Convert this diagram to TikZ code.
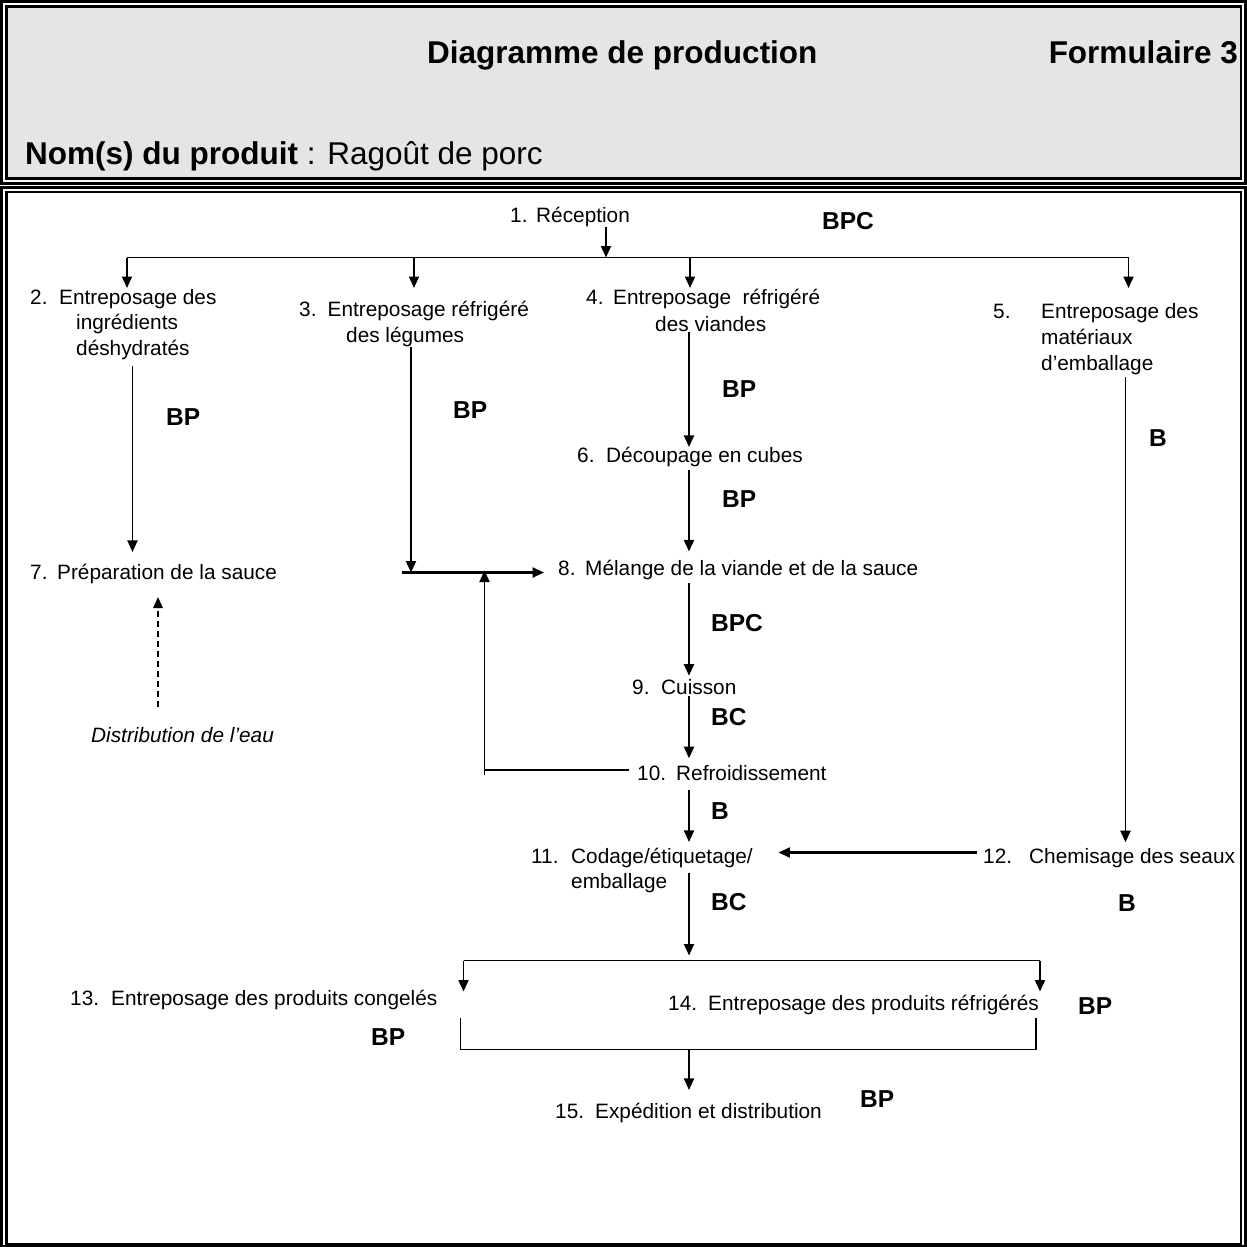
\documentclass[tikz,border=0pt]{standalone}
\usepackage{fontspec}
\setmainfont{Liberation Sans}
\usetikzlibrary{arrows.meta}
\definecolor{panelgray}{HTML}{E5E5E5}
\newcommand\stepno[2]{\makebox[#1][l]{#2}}
\newcommand\txtfont{\fontsize{20.8}{25}\selectfont}
\newcommand\hdfont{\fontsize{31.5}{38}\selectfont\bfseries}
\newcommand\riskfont{\fontsize{24.5}{29}\selectfont\bfseries}
\tikzset{
  stepbox/.style={font=\txtfont, inner sep=0pt, anchor=base west},
  risk/.style={font=\riskfont, inner sep=0pt, anchor=base west},
  head/.style={font=\hdfont, inner sep=0pt, anchor=base west},
  link/.style={line width=1.6pt},
  flow/.style={line width=1.9pt, -{Triangle[length=11.5pt,width=10pt]}},
  water/.style={line width=1.6pt, dash pattern=on 6pt off 4pt, -{Triangle[length=11pt,width=9.5pt]}},
}
\begin{document}
\begin{tikzpicture}[x=1pt,y=-1pt]
\useasboundingbox (0,0) rectangle (1247,1247);

% double-ruled frames
\draw[line width=3pt] (1.5,1.5) rectangle (1245.5,183);
\draw[line width=2.5pt, fill=panelgray] (6.5,6.5) rectangle (1241,178.5);
\draw[line width=3pt] (1.5,187.5) rectangle (1245.5,1246.5);
\draw[line width=2.5pt] (6.5,192) rectangle (1241,1244);

% header
\node[head] (title) at (427,63.3) {Diagramme de production};
\node[head, anchor=base east] (form) at (1238,63.3) {Formulaire 3};
\node[head] (prod) at (25,164.3) {Nom(s) du produit\mdseries\ : Ragoût de porc};

% steps
\node[stepbox] (n1) at (510,222.5) {\stepno{26pt}{1.}Réception};
\node[stepbox] (n2a) at (30,304.5) {\stepno{29pt}{2.}Entreposage des};
\node[stepbox] (n2b) at (76,329.5) {ingrédients};
\node[stepbox] (n2c) at (76,355.5) {déshydratés};
\node[stepbox] (n3a) at (299,316.5) {\stepno{28.5pt}{3.}Entreposage réfrigéré};
\node[stepbox] (n3b) at (346,342.5) {des légumes};
\node[stepbox] (n4a) at (586,304.5) {\stepno{27pt}{4.}Entreposage\ \ réfrigéré};
\node[stepbox] (n4b) at (655,331.5) {des viandes};
\node[stepbox] (n5a) at (993,318.5) {\stepno{48pt}{5.}Entreposage des};
\node[stepbox] (n5b) at (1041,344.5) {matériaux};
\node[stepbox] (n5c) at (1041,370.5) {d’emballage};
\node[stepbox] (n6) at (577,462.5) {\stepno{29pt}{6.}Découpage en cubes};
\node[stepbox] (n7) at (30,579.5) {\stepno{27pt}{7.}Préparation de la sauce};
\node[stepbox] (n8) at (558,575.5) {\stepno{27pt}{8.}Mélange de la viande et de la sauce};
\node[stepbox] (n9) at (632,694.5) {\stepno{29pt}{9.}Cuisson};
\node[stepbox] (n10) at (637,780.5) {\stepno{39pt}{10.}Refroidissement};
\node[stepbox] (n11a) at (531,863.5) {\stepno{40pt}{11.}Codage/étiquetage/};
\node[stepbox] (n11b) at (571,888.5) {emballage};
\node[stepbox] (n12) at (983,863.5) {\stepno{46pt}{12.}Chemisage des seaux};
\node[stepbox] (n13) at (70,1005.5) {\stepno{41pt}{13.}Entreposage des produits congelés};
\node[stepbox] (n14) at (668,1010.5) {\stepno{40pt}{14.}Entreposage des produits réfrigérés};
\node[stepbox] (n15) at (555,1118.5) {\stepno{40pt}{15.}Expédition et distribution};
\node[stepbox, font=\txtfont\itshape] (water) at (91,742.5) {Distribution de l’eau};

% hazard labels
\node[risk] (r1) at (822,229.6) {BPC};
\node[risk] (r2) at (166,425.6) {BP};
\node[risk] (r3) at (453,418.6) {BP};
\node[risk] (r4) at (722,397.6) {BP};
\node[risk] (r5) at (1149,446.6) {B};
\node[risk] (r6) at (722,507) {BP};
\node[risk] (r7) at (711,631.6) {BPC};
\node[risk] (r8) at (711,725.3) {BC};
\node[risk] (r9) at (711,819.6) {B};
\node[risk] (r10) at (711,910) {BC};
\node[risk] (r11) at (1118,911) {B};
\node[risk] (r12) at (1078,1014) {BP};
\node[risk] (r13) at (371,1045) {BP};
\node[risk] (r14) at (860,1107) {BP};

% junction rows and columns
\coordinate (busT) at (0,257.5);
\coordinate (tipT) at (0,288);
\coordinate (colR) at (606,0);
\coordinate (c2) at (127,0);
\coordinate (c3) at (414,0);
\coordinate (c4) at (690,0);
\coordinate (c5) at (1128.5,0);
\coordinate (t2) at (132.5,0);
\coordinate (t3) at (411,0);
\coordinate (cC) at (689,0);
\coordinate (t5) at (1125.5,0);
\coordinate (mixY) at (0,572.5);
\coordinate (mixL) at (402,572.5);
\coordinate (loopX) at (484.5,0);
\coordinate (loopBot) at (484.5,775);
\coordinate (dashX) at (158,0);
\coordinate (arrY) at (0,852.5);
\coordinate (busB) at (0,960.5);
\coordinate (tipB) at (0,991.5);
\coordinate (c13) at (463.5,0);
\coordinate (c14) at (1040,0);
\coordinate (brT) at (0,1017.5);
\coordinate (brB) at (0,1049.5);
\coordinate (b13) at (460.5,0);
\coordinate (b14) at (1036,0);

% reception split
\draw[flow] (n1.south -| colR) -- (colR |- busT);
\draw[link] (busT -| c2) -- (busT -| c5);
\draw[flow] (busT -| c2) -- (tipT -| c2);
\draw[flow] (busT -| c3) -- (tipT -| c3);
\draw[flow] (busT -| c4) -- (tipT -| c4);
\draw[flow] (busT -| c5) -- (tipT -| c5);

% sauce branch
\draw[flow] ([yshift=-6pt]n2c.south -| t2) -- ([yshift=12pt]n7.north -| t2);
\draw[water] ([yshift=20pt]water.north -| dashX) -- ([yshift=-13pt]n7.south -| dashX);

% vegetables and mixing
\draw[flow] (n3b.south -| t3) -- (mixY -| t3);
\draw[flow, line width=2.4pt] (mixL) -- ([xshift=-14pt]n8.west |- mixY);
\draw[link] ([xshift=-8pt,yshift=3pt]n10.west) -- ([yshift=3pt]n10.west -| loopX);
\draw[flow] (loopBot) -- ([yshift=2pt]loopX |- mixY);

% main column
\draw[flow] (n4b.south -| cC) -- (n6.north -| cC);
\draw[flow] ([yshift=-3pt]n6.south -| cC) -- ([yshift=8.5pt]n8.north -| cC);
\draw[flow] ([yshift=-2.5pt]n8.south -| cC) -- ([yshift=3.5pt]n9.north -| cC);
\draw[flow] ([yshift=-1.5pt]n9.south -| cC) -- ([yshift=7pt]n10.north -| cC);
\draw[flow] ([yshift=-9.5pt]n10.south -| cC) -- ([yshift=6pt]n11a.north -| cC);
\draw[flow] ([yshift=-5pt]n11a.south -| cC) -- ([yshift=5pt]busB -| cC);

% packaging branch
\draw[flow] ([yshift=-2pt]n5c.south -| t5) -- ([yshift=6pt]n12.north -| t5);
\draw[flow, line width=2.2pt] ([xshift=-6pt]n12.west |- arrY) -- ([xshift=25.5pt]n11a.east |- arrY);

% storage split and collection
\draw[link] (busB -| c13) -- (busB -| c14);
\draw[flow] (busB -| c13) -- (tipB -| c13);
\draw[flow] (busB -| c14) -- (tipB -| c14);
\draw[link] (brT -| b13) -- (brB -| b13) -- (brB -| b14) -- (brT -| b14);
\draw[flow] (brB -| cC) -- ([yshift=13pt]n15.north -| cC);
\end{tikzpicture}
\end{document}
